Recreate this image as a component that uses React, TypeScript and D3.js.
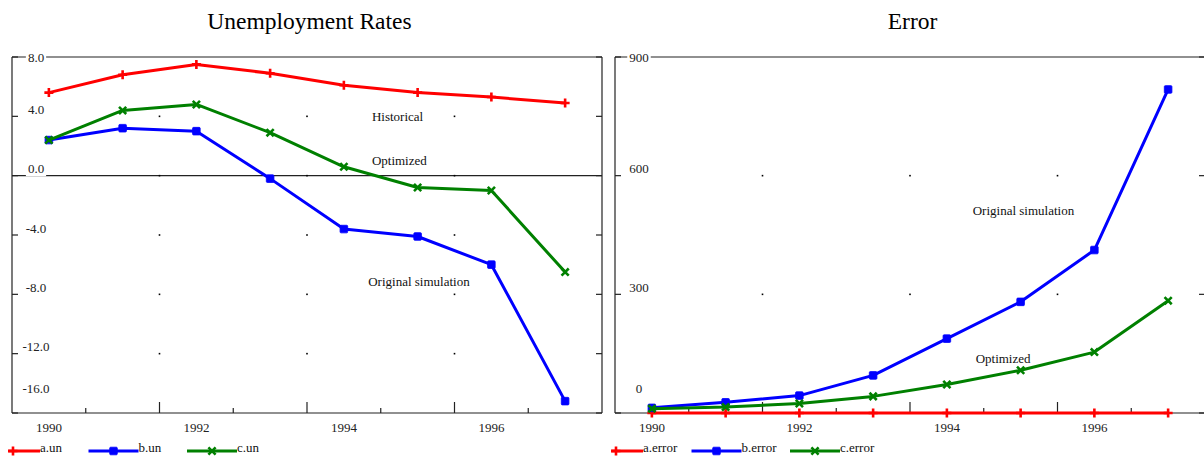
import * as d3 from 'd3';
import { useEffect, useRef } from 'react';

const years = [1990, 1991, 1992, 1993, 1994, 1995, 1996, 1997];
const yearLabels = [1990, 1992, 1994, 1996];

// Unemployment Rates panel
const aUn = [5.6, 6.8, 7.5, 6.9, 6.1, 5.6, 5.3, 4.9];
const bUn = [2.4, 3.2, 3.0, -0.2, -3.6, -4.1, -6.0, -15.2];
const cUn = [2.4, 4.4, 4.8, 2.9, 0.6, -0.8, -1.0, -6.5];
const unTicks = [8, 4, 0, -4, -8, -12, -16];

// Error panel
const aError = [0, 0, 0, 0, 0, 0, 0, 0];
const bError = [13, 27, 44, 95, 188, 281, 412, 818];
const cError = [11, 15, 24, 42, 72, 108, 154, 284];
const errTicks = [900, 600, 300, 0];

const unNotes = [
    { text: 'Historical', year: 1994.38, value: 3.97 },
    { text: 'Optimized', year: 1994.38, value: 1.0 },
    { text: 'Original simulation', year: 1994.33, value: -7.1 },
];
const errNotes = [
    { text: 'Original simulation', year: 1994.35, value: 513 },
    { text: 'Optimized', year: 1994.39, value: 137 },
];

const FONT = '"Liberation Serif", "Times New Roman", serif';
const RED = '#ff0000';
const BLUE = '#0000ff';
const GREEN = '#008000';

function drawMarker(g: any, kind: string, color: string, x: number, y: number) {
    if (kind === 'plus') {
        g.append('path').attr('d', `M${x - 4.5},${y}H${x + 4.5}M${x},${y - 4.5}V${y + 4.5}`)
            .attr('stroke', color).attr('stroke-width', 2.6).attr('fill', 'none');
    } else if (kind === 'square') {
        g.append('rect').attr('x', x - 3.8).attr('y', y - 3.8).attr('width', 7.6).attr('height', 7.6)
            .attr('fill', color).attr('stroke', color).attr('stroke-width', 0.8).attr('rx', 1);
    } else {
        g.append('path').attr('d', `M${x - 3.6},${y - 3.6}L${x + 3.6},${y + 3.6}M${x - 3.6},${y + 3.6}L${x + 3.6},${y - 3.6}`)
            .attr('stroke', color).attr('stroke-width', 2.6).attr('fill', 'none');
    }
}

function drawPanel(svg: any, opt: any) {
    const top = 57;
    const bottom = 413;
    const { x0, x1, title, ticks, fmt, series, notes, domain } = opt;

    const xScale = d3.scaleLinear().domain([1989.5, 1997.5]).range([x0, x1]);
    const yScale = d3.scaleLinear().domain(domain).range([bottom, top]);

    const g = svg.append('g');

    // title
    g.append('text')
        .attr('x', (x0 + x1) / 2 + 2.5)
        .attr('y', 29)
        .attr('text-anchor', 'middle')
        .attr('font-family', FONT)
        .attr('font-size', 23.5)
        .attr('fill', '#000')
        .text(title);

    const frame = g.append('g').attr('stroke', '#222').attr('stroke-width', 1.2).attr('fill', 'none');
    frame.append('line').attr('x1', x0).attr('x2', x1).attr('y1', top).attr('y2', top);
    frame.append('line').attr('x1', x0).attr('x2', x1).attr('y1', bottom).attr('y2', bottom);
    frame.append('line').attr('x1', x0).attr('x2', x0).attr('y1', top).attr('y2', bottom);
    frame.append('line').attr('x1', x1).attr('x2', x1).attr('y1', top).attr('y2', bottom);

    // zero line
    if (domain[0] < 0) {
        frame.append('line').attr('x1', x0).attr('x2', x1).attr('y1', yScale(0)).attr('y2', yScale(0));
    }

    // y ticks on both sides
    ticks.forEach((t: number) => {
        frame.append('line').attr('x1', x0).attr('x2', x0 + 6).attr('y1', yScale(t)).attr('y2', yScale(t));
        frame.append('line').attr('x1', x1 - 6).attr('x2', x1).attr('y1', yScale(t)).attr('y2', yScale(t));
    });

    // x ticks at half years
    const halfTicks = d3.range(1990.5, 1997, 1);
    halfTicks.forEach((t: number, i: number) => {
        const len = i % 2 === 1 ? 11 : 5;
        frame.append('line').attr('x1', xScale(t)).attr('x2', xScale(t)).attr('y1', bottom).attr('y2', bottom - len);
    });

    // grid dots
    halfTicks.filter((_: number, i: number) => i % 2 === 1).forEach((tx: number) => {
        ticks.forEach((ty: number) => {
            if (ty === domain[0] || ty === domain[1]) return;
            g.append('rect').attr('x', xScale(tx) - 0.8).attr('y', yScale(ty) - 0.8)
                .attr('width', 1.6).attr('height', 1.6).attr('fill', '#000');
        });
    });

    // y tick labels with white background
    ticks.forEach((t: number) => {
        const cy = Math.min(Math.max(yScale(t) - 7, top), bottom - 25);
        const txt = g.append('text')
            .attr('x', x0 + 24)
            .attr('y', cy)
            .attr('dy', '0.35em')
            .attr('text-anchor', 'middle')
            .attr('font-family', FONT)
            .attr('font-size', 13)
            .attr('fill', '#222')
            .text(fmt(t));
        const bb = txt.node().getBBox();
        g.insert('rect', () => txt.node())
            .attr('x', bb.x - 2).attr('y', bb.y).attr('width', bb.width + 4).attr('height', bb.height)
            .attr('fill', '#fff');
    });

    // x labels
    yearLabels.forEach((yr: number) => {
        g.append('text')
            .attr('x', xScale(yr))
            .attr('y', 427)
            .attr('dy', '0.35em')
            .attr('text-anchor', 'middle')
            .attr('font-family', FONT)
            .attr('font-size', 13)
            .attr('fill', '#222')
            .text(yr);
    });

    // series
    const line = d3.line<number>()
        .x((_d, i) => xScale(years[i]))
        .y((d) => yScale(d));

    series.forEach((s: any) => {
        g.append('path')
            .datum(s.values)
            .attr('d', line)
            .attr('fill', 'none')
            .attr('stroke', s.color)
            .attr('stroke-width', 3)
            .attr('stroke-linejoin', 'round');
        s.values.forEach((v: number, i: number) => {
            drawMarker(g, s.marker, s.color, xScale(years[i]), yScale(v));
        });
    });

    // notes
    notes.forEach((n: any) => {
        g.append('text')
            .attr('x', xScale(n.year))
            .attr('y', yScale(n.value))
            .attr('dy', '0.35em')
            .attr('font-family', FONT)
            .attr('font-size', 13)
            .attr('fill', '#111')
            .text(n.text);
    });

    // legend
    series.forEach((s: any, i: number) => {
        const tx = x0 + 28 + i * 98.5;
        const len = i === 0 ? 32 : 50;
        const ly = 451;
        g.append('line').attr('x1', tx - len).attr('x2', tx).attr('y1', ly).attr('y2', ly)
            .attr('stroke', s.color).attr('stroke-width', 3);
        drawMarker(g, s.marker, s.color, i === 0 ? tx - 27 : tx - 25, ly);
        g.append('text')
            .attr('x', tx)
            .attr('y', 447)
            .attr('dy', '0.35em')
            .attr('font-family', FONT)
            .attr('font-size', 13)
            .attr('fill', '#111')
            .text(s.name);
    });
}

export default function App() {
    const ref = useRef<any>();

    useEffect(() => {
        const svg = d3.select(ref.current);
        svg.selectAll('*').remove();

        drawPanel(svg, {
            x0: 12,
            x1: 602,
            title: 'Unemployment Rates',
            ticks: unTicks,
            fmt: (d: number) => d.toFixed(1),
            domain: [-16, 8],
            notes: unNotes,
            series: [
                { name: 'a.un', values: aUn, color: RED, marker: 'plus' },
                { name: 'b.un', values: bUn, color: BLUE, marker: 'square' },
                { name: 'c.un', values: cUn, color: GREEN, marker: 'cross' },
            ],
        });

        drawPanel(svg, {
            x0: 615,
            x1: 1205,
            title: 'Error',
            ticks: errTicks,
            fmt: (d: number) => String(d),
            domain: [0, 900],
            notes: errNotes,
            series: [
                { name: 'a.error', values: aError, color: RED, marker: 'plus' },
                { name: 'b.error', values: bError, color: BLUE, marker: 'square' },
                { name: 'c.error', values: cError, color: GREEN, marker: 'cross' },
            ],
        });
    }, []);

    return (
        <svg
            ref={ref}
            width={1204}
            height={457}
            style={{ position: 'absolute', left: 0, top: 0, background: '#fff' }}
        ></svg>
    );
}
